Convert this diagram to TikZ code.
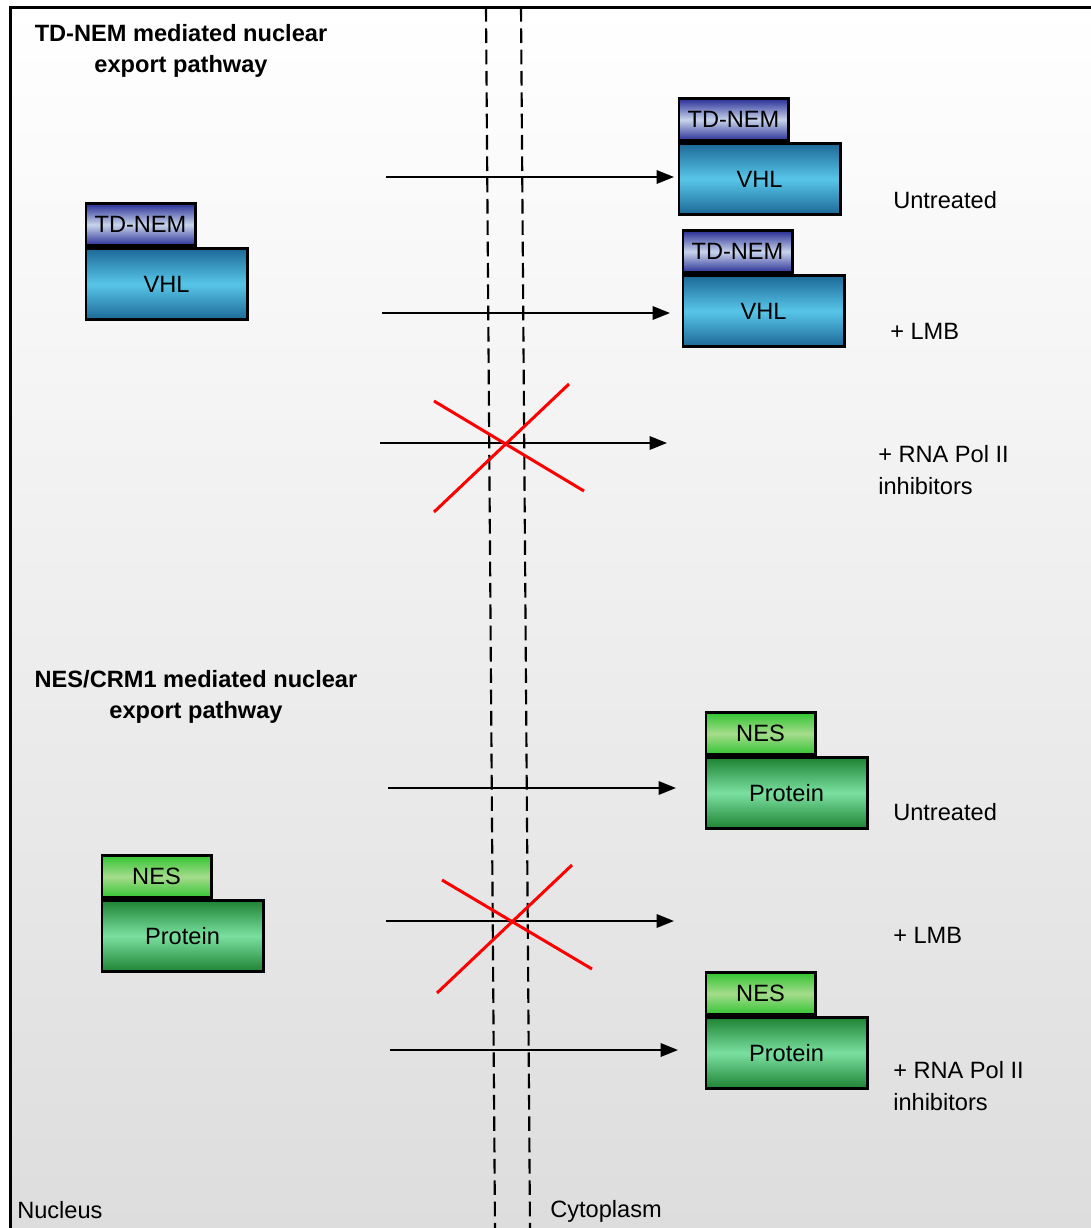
\documentclass[tikz,border=0pt]{standalone}
\usepackage{fontspec}
\setmainfont{Liberation Sans}
\usetikzlibrary{arrows.meta}

\definecolor{nemtop}{RGB}{40,46,150}
\definecolor{nemmid}{RGB}{200,212,235}
\definecolor{vhltop}{RGB}{28,104,150}
\definecolor{vhlmid}{RGB}{88,198,232}
\definecolor{nestop}{RGB}{50,196,50}
\definecolor{nesmid}{RGB}{165,220,140}
\definecolor{prottop}{RGB}{30,130,50}
\definecolor{protmid}{RGB}{122,224,160}
\definecolor{bgbottom}{RGB}{221,221,221}

\tikzset{
  txt/.style={font=\fontsize{17.7}{24}\selectfont, inner sep=0pt},
  ttl/.style={font=\bfseries\fontsize{17.7}{23.25}\selectfont, align=center, inner sep=0pt},
  tagbox/.style={draw, line width=2pt, minimum width=82pt, minimum height=31.5pt, inner sep=0pt,
    anchor=south west, font=\fontsize{17.7}{24}\selectfont},
  mainbox/.style={draw, line width=2pt, minimum width=121pt, minimum height=53.5pt, inner sep=0pt,
    anchor=north west, font=\fontsize{17.7}{24}\selectfont},
  nemtag/.style={tagbox, top color=nemtop, bottom color=nemtop, middle color=nemmid},
  vhlmain/.style={mainbox, top color=vhltop, bottom color=vhltop, middle color=vhlmid},
  nestag/.style={tagbox, top color=nestop, bottom color=nestop, middle color=nesmid},
  protmain/.style={mainbox, top color=prottop, bottom color=prottop, middle color=protmid},
  export/.style={-{Triangle[length=13pt,width=10pt]}, line width=1.6pt},
  blocked/.style={red, line width=2.25pt},
  envelope/.style={dash pattern=on 11pt off 5pt, line width=1.6pt}
}

\begin{document}
\begin{tikzpicture}[x=0.75pt,y=-0.75pt]
  \useasboundingbox (0,0) rectangle (1091,1228);
  \shade [top color=white, bottom color=bgbottom] (10,7) rectangle (1091,1228);
  \draw [line width=2.25pt] (1091,7) -- (10,7) -- (10,1228);
  \draw [envelope] (486,7) -- (495,1228);
  \draw [envelope] (521,7) -- (530,1228);

  \node [ttl] (ttlnem) at (181,51) {TD-NEM mediated nuclear\\export pathway};
  \node [ttl] (ttlnes) at (196,697) {NES/CRM1 mediated nuclear\\export pathway};

  \node [vhlmain] (vhlL) at (84.5,247) {VHL};
  \node [nemtag] (nemL) at (vhlL.north west) {TD-NEM};
  \node [vhlmain] (vhlA) at (677.5,142) {VHL};
  \node [nemtag] (nemA) at (vhlA.north west) {TD-NEM};
  \node [vhlmain] (vhlB) at (681.5,274) {VHL};
  \node [nemtag] (nemB) at (vhlB.north west) {TD-NEM};

  \node [protmain] (protL) at (100.5,899) {Protein};
  \node [nestag] (nesL) at (protL.north west) {NES};
  \node [protmain] (protA) at (704.5,756) {Protein};
  \node [nestag] (nesA) at (protA.north west) {NES};
  \node [protmain] (protC) at (704.5,1016) {Protein};
  \node [nestag] (nesC) at (protC.north west) {NES};

  \coordinate (s1) at (386,177);
  \coordinate (e1) at (674,177);
  \coordinate (s2) at (382,313);
  \coordinate (e2) at (670,313);
  \coordinate (s3) at (380,443);
  \coordinate (e3) at (667,443);
  \coordinate (s4) at (388,788);
  \coordinate (e4) at (676,788);
  \coordinate (s5) at (386,921);
  \coordinate (e5) at (674,921);
  \coordinate (s6) at (390,1050);
  \coordinate (e6) at (678,1050);
  \draw [export] (s1) -- (e1);
  \draw [export] (s2) -- (e2);
  \draw [export] (s3) -- (e3);
  \draw [export] (s4) -- (e4);
  \draw [export] (s5) -- (e5);
  \draw [export] (s6) -- (e6);

  \draw [blocked] (434,401) -- (584,491);
  \draw [blocked] (434,512) -- (569,384);
  \draw [blocked] (442,880) -- (592,969);
  \draw [blocked] (437,993) -- (572,865);

  \node [txt, anchor=west] (untrA) at (893,200) {Untreated};
  \node [txt, anchor=west] (lmbA) at (890,331) {+ LMB};
  \node [txt, anchor=west, align=left] (polA) at (878,470) {+ RNA Pol II\\inhibitors};
  \node [txt, anchor=west] (untrB) at (893,812) {Untreated};
  \node [txt, anchor=west] (lmbB) at (893,935) {+ LMB};
  \node [txt, anchor=west, align=left] (polB) at (893,1086) {+ RNA Pol II\\inhibitors};

  \node [txt, anchor=west] (nucleus) at (17,1210) {Nucleus};
  \node [txt, anchor=west] (cytoplasm) at (550,1211) {Cytoplasm};
\end{tikzpicture}
\end{document}
